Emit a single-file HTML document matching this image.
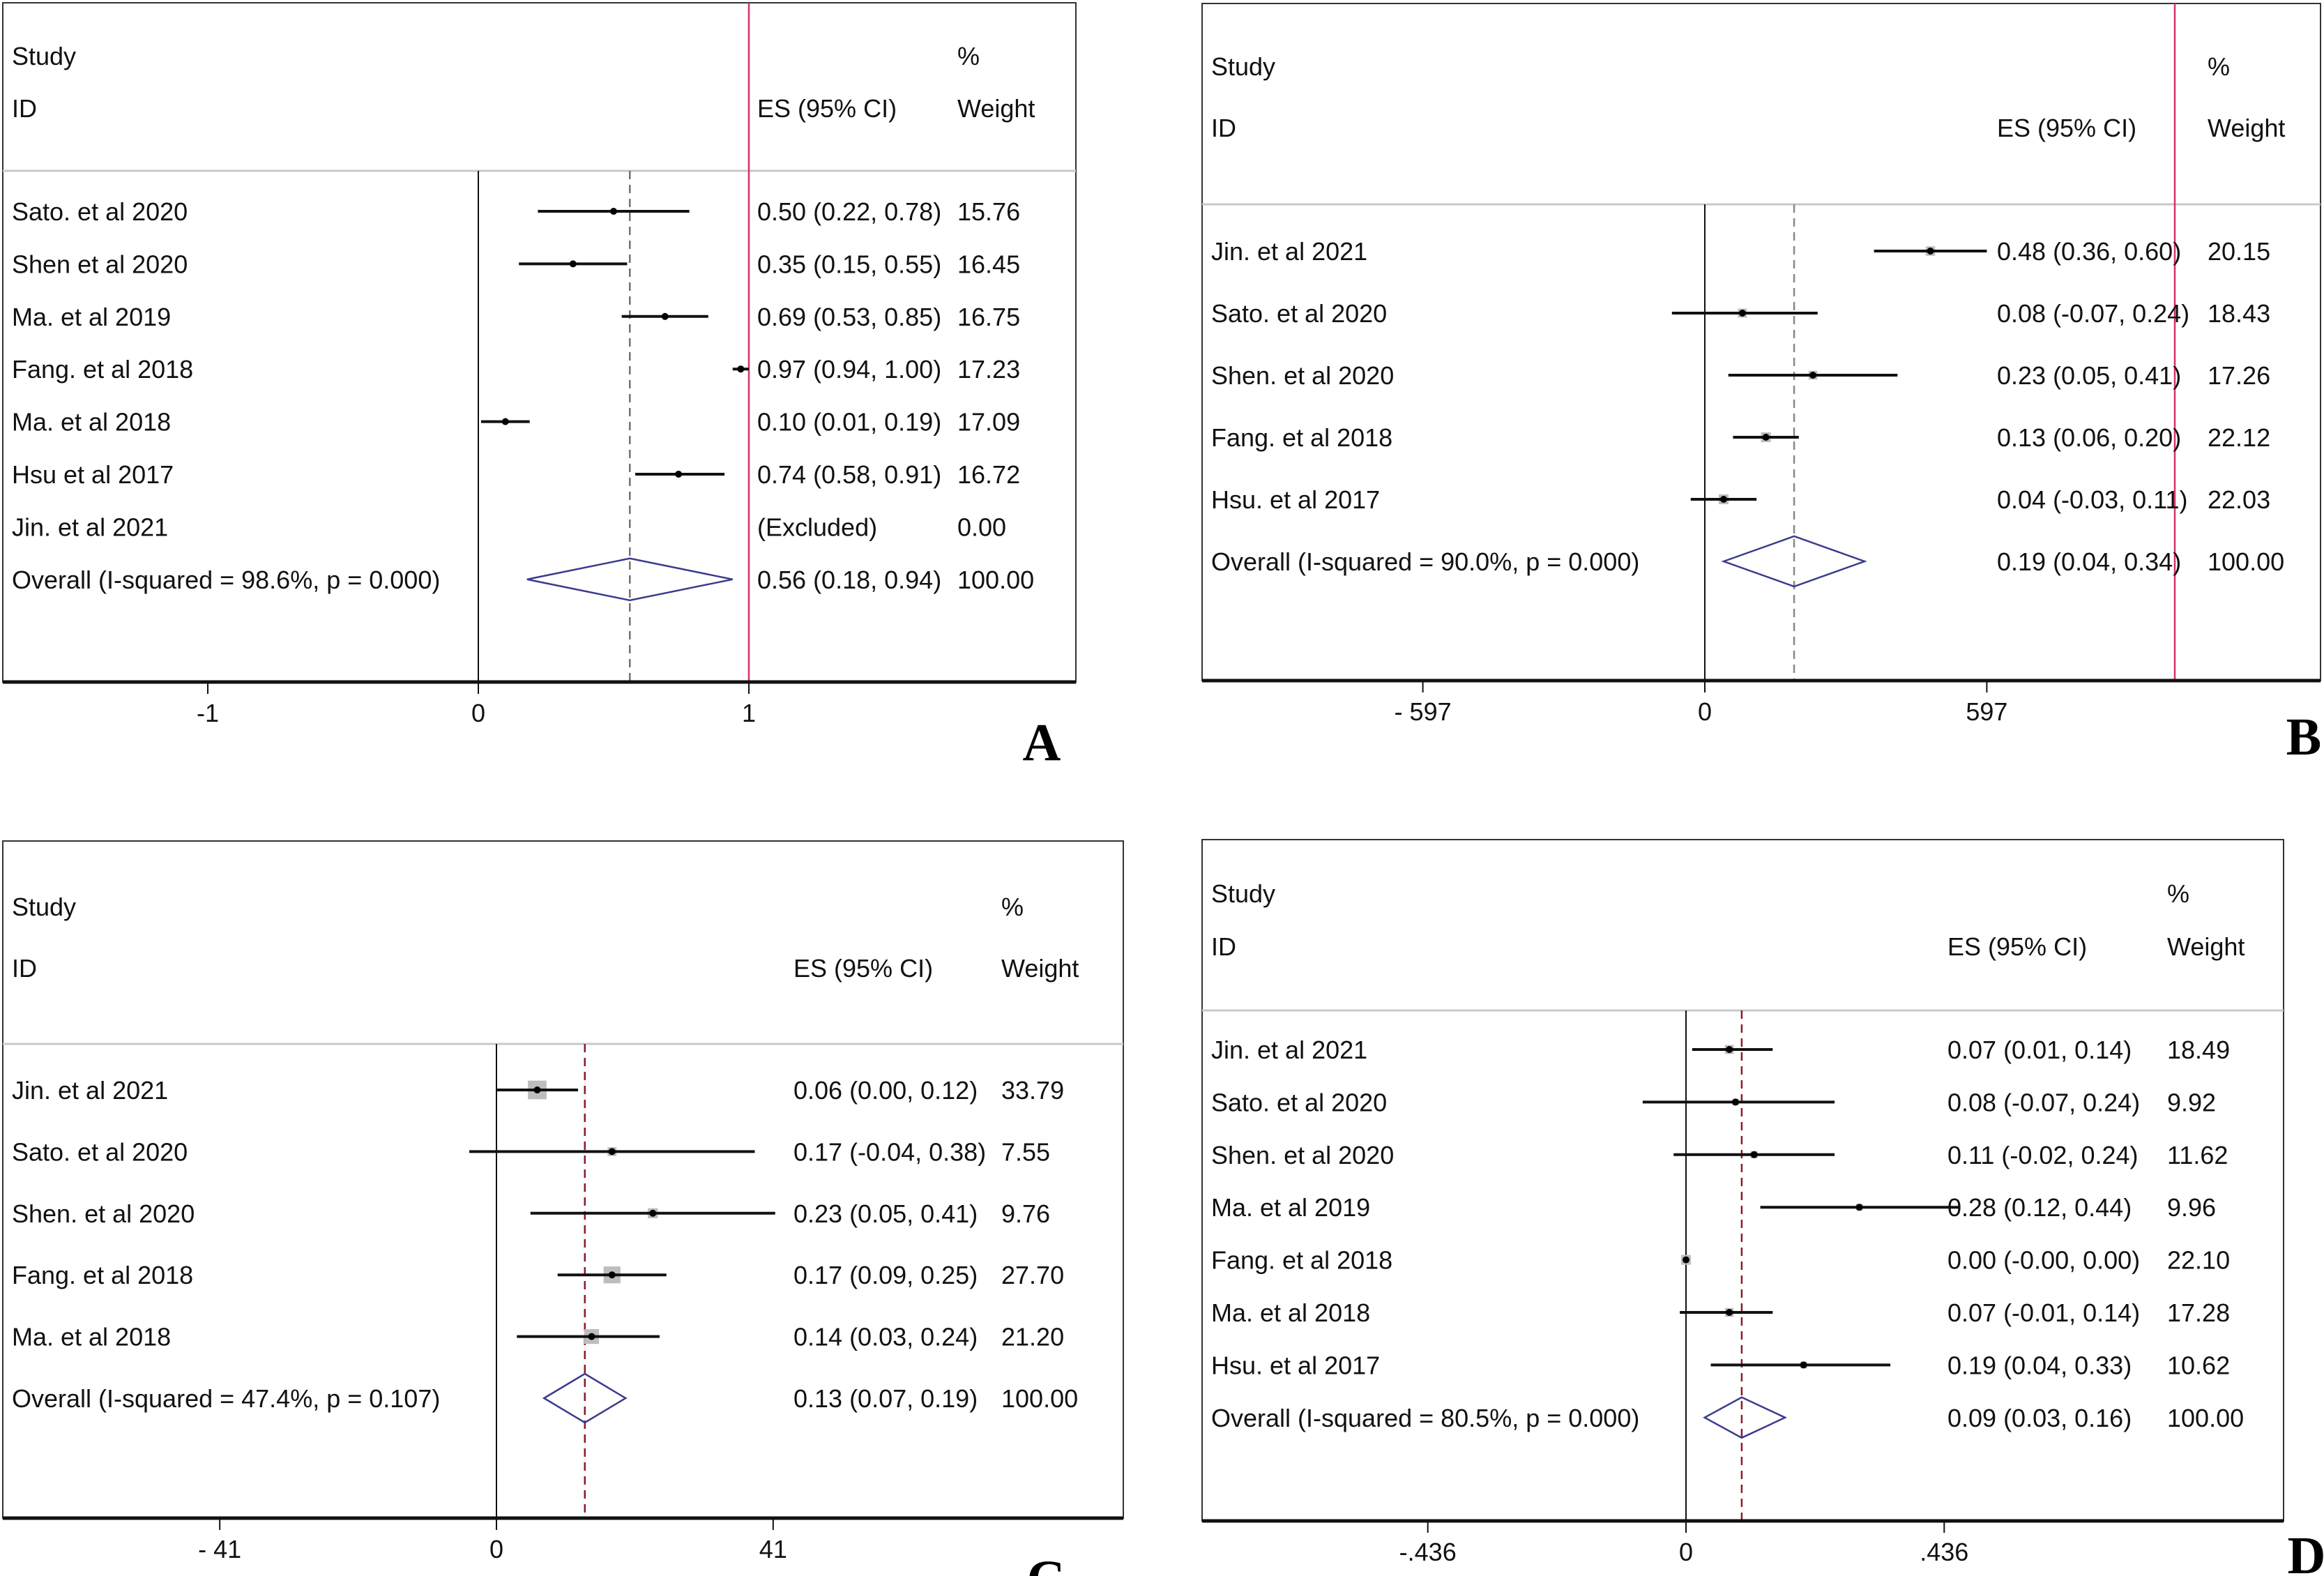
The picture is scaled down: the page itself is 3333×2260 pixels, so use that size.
<!DOCTYPE html>
<html><head><meta charset="utf-8"><style>
html,body{margin:0;padding:0;background:#fff;}
svg{display:block;}
text{font-family:"Liberation Sans",Arial,sans-serif;font-size:36px;fill:#111;}
.letter{font-family:"Liberation Serif",serif;font-weight:bold;font-size:76px;fill:#000;}
</style></head><body>
<svg id="fig" width="3333" height="2260" viewBox="0 0 3333 2260" xmlns="http://www.w3.org/2000/svg"></svg>
<script>
// Panel A data
const aStudies=["Sato. et al 2020","Shen  et al 2020","Ma. et al 2019","Fang. et al 2018","Ma. et al 2018","Hsu  et al 2017","Jin. et al 2021"];
const aES=[0.50,0.35,0.69,0.97,0.10,0.74,null];
const aLo=[0.22,0.15,0.53,0.94,0.01,0.58,null];
const aHi=[0.78,0.55,0.85,1.00,0.19,0.91,null];
const aWt=["15.76","16.45","16.75","17.23","17.09","16.72","0.00"];
const aOverall=[0.56,0.18,0.94];
const aOverallLabel="Overall  (I-squared = 98.6%, p = 0.000)";
const aTicks=[-1,0,1];
const aTickLabels=["-1","0","1"];
// Panel B data
const bStudies=["Jin. et al 2021","Sato. et al 2020","Shen. et al 2020","Fang. et al 2018","Hsu. et al 2017"];
const bES=[0.48,0.08,0.23,0.13,0.04];
const bLo=[0.36,-0.07,0.05,0.06,-0.03];
const bHi=[0.60,0.24,0.41,0.20,0.11];
const bWt=["20.15","18.43","17.26","22.12","22.03"];
const bOverall=[0.19,0.04,0.34];
const bOverallLabel="Overall  (I-squared = 90.0%, p = 0.000)";
const bTicks=[-0.6,0,0.6];
const bTickLabels=["- 597","0","597"];
// Panel C data
const cStudies=["Jin. et al 2021","Sato. et al 2020","Shen. et al 2020","Fang. et al 2018","Ma. et al 2018"];
const cES=[0.06,0.17,0.23,0.17,0.14];
const cLo=[0.00,-0.04,0.05,0.09,0.03];
const cHi=[0.12,0.38,0.41,0.25,0.24];
const cWt=["33.79","7.55","9.76","27.70","21.20"];
const cOverall=[0.13,0.07,0.19];
const cOverallLabel="Overall  (I-squared = 47.4%, p = 0.107)";
const cTicks=[-0.407,0,0.407];
const cTickLabels=["- 41","0","41"];
// Panel D data
const dStudies=["Jin. et al 2021","Sato. et al 2020","Shen. et al 2020","Ma. et al 2019","Fang. et al 2018","Ma. et al 2018","Hsu. et al 2017"];
const dES=[0.07,0.08,0.11,0.28,0.00,0.07,0.19];
const dLo=[0.01,-0.07,-0.02,0.12,-0.001,-0.01,0.04];
const dHi=[0.14,0.24,0.24,0.44,0.001,0.14,0.33];
const dWt=["18.49","9.92","11.62","9.96","22.10","17.28","10.62"];
const dOverall=[0.09,0.03,0.16];
const dOverallLabel="Overall  (I-squared = 80.5%, p = 0.000)";
const dTicks=[-0.417,0,0.417];
const dTickLabels=["-.436","0",".436"];

const NS="http://www.w3.org/2000/svg";
const svg=document.getElementById("fig");
function mk(tag,attrs,parent){const e=document.createElementNS(NS,tag);for(const k in attrs)e.setAttribute(k,attrs[k]);(parent||svg).appendChild(e);return e;}
function fmt(v){return v.toFixed(2);}
function esText(e,l,h){return fmt(e)+" ("+fmt(l)+", "+fmt(h)+")";}

function panel(key,L,studies,es,lo,hi,wt,overall,overallLabel,ticks,tickLabels){
  const g=mk("g",{});
  
  
  const X=v=>L.zeroX+v*L.unit;
  const rowY=i=>L.row0+i*L.step;
  const fr=mk("rect",{x:L.left,y:L.top,width:L.right-L.left,height:L.bottom-L.top,fill:"none",stroke:"#333","stroke-width":2},g);
  
  
  const sep=mk("line",{x1:L.left,x2:L.right,y1:L.sep,y2:L.sep,stroke:"#c8c8c8","stroke-width":3},g);
  
  
  const hdr=[["Study",L.textX,L.studyY,"header-study"],["ID",L.textX,L.idY,"header-id"],["ES (95% CI)",L.esX,L.idY,"header-es"],["%",L.wX,L.studyY,"header-percent"],["Weight",L.wX,L.idY,"header-weight"]];
  hdr.forEach(h=>{const t=mk("text",{x:h[1],y:h[2]+13},g);t.textContent=h[0];
    
    });
  const zl=mk("line",{x1:X(0),x2:X(0),y1:L.sep,y2:L.bottom,stroke:"#111","stroke-width":2},g);
  
  
  const dl=mk("line",{x1:X(overall[0]),x2:X(overall[0]),y1:L.sep,y2:L.bottom,stroke:L.dash,"stroke-width":2.5,"stroke-dasharray":"12,8"},g);
  
  
  if(L.red!==undefined){
    const rl=mk("line",{x1:X(L.red),x2:X(L.red),y1:L.top,y2:L.bottom,stroke:"#d8306a","stroke-width":2.5},g);
    
    
  }
  studies.forEach((s,i)=>{
    const y=rowY(i);
    const t=mk("text",{x:L.textX,y:y+13},g);t.textContent=s;
    
    
    if(es[i]!==null){
      const sz=L.boxK*Math.sqrt(parseFloat(wt[i]));
      if(sz>0){const b=mk("rect",{x:X(es[i])-sz/2,y:y-sz/2,width:sz,height:sz,fill:"#bdbdbd"},g);
        
        }
      const ci=mk("line",{x1:X(lo[i]),x2:X(hi[i]),y1:y,y2:y,stroke:"#111","stroke-width":4},g);
      
      
      const p=mk("circle",{cx:X(es[i]),cy:y,r:5,fill:"#000"},g);
      
      
      const et=mk("text",{x:L.esX,y:y+13},g);et.textContent=esText(es[i],lo[i],hi[i]);
      
      
    } else {
      const et=mk("text",{x:L.esX,y:y+13},g);et.textContent="(Excluded)";
      
      
    }
    const wtT=mk("text",{x:L.wX,y:y+13},g);wtT.textContent=wt[i];
    
    
  });
  const oy=rowY(studies.length);
  const ot=mk("text",{x:L.textX,y:oy+13},g);ot.textContent=overallLabel;
  
  
  const dm=mk("polygon",{points:[X(overall[1])+","+oy,X(overall[0])+","+(oy-L.dh),X(overall[2])+","+oy,X(overall[0])+","+(oy+L.dh)].join(" "),fill:"none",stroke:"#3b3b8c","stroke-width":2.5},g);
  
  
  const oe=mk("text",{x:L.esX,y:oy+13},g);oe.textContent=esText(overall[0],overall[1],overall[2]);
  
  
  const ow=mk("text",{x:L.wX,y:oy+13},g);ow.textContent="100.00";
  
  
  const ax=mk("line",{x1:L.left,x2:L.right,y1:L.bottom,y2:L.bottom,stroke:"#111","stroke-width":5},g);
  
  
  ticks.forEach((tv,i)=>{
    const tk=mk("line",{x1:X(tv),x2:X(tv),y1:L.bottom,y2:L.bottom+17,stroke:"#111","stroke-width":2},g);
    
    
    const tl=mk("text",{x:X(tv),y:L.bottom+57,"text-anchor":"middle"},g);tl.textContent=tickLabels[i];
    
    
  });
  const lt=mk("text",{x:L.letterX,y:L.letterY,"class":"letter","text-anchor":"middle"},g);lt.textContent=key.toUpperCase();
  
  
}

panel("a",{left:4,right:1543,top:4,sep:245,bottom:978,zeroX:686,unit:388,row0:303,step:75.4,studyY:80,idY:155,textX:17,esX:1086,wX:1373,dash:"#7a6a7a",red:1,boxK:0,dh:30,letterX:1494,letterY:1090},
  aStudies,aES,aLo,aHi,aWt,aOverall,aOverallLabel,aTicks,aTickLabels);
panel("b",{left:1724,right:3328,top:5,sep:293,bottom:976,zeroX:2445,unit:674,row0:360,step:89,studyY:95,idY:183,textX:1737,esX:2864,wX:3166,dash:"#888",red:1,boxK:3,dh:36,letterX:3304,letterY:1082},
  bStudies,bES,bLo,bHi,bWt,bOverall,bOverallLabel,bTicks,bTickLabels);
panel("c",{left:4,right:1611,top:1206,sep:1497,bottom:2177,zeroX:712,unit:975,row0:1563,step:88.4,studyY:1300,idY:1388,textX:17,esX:1138,wX:1436,dash:"#8b1a2a",boxK:4.6,dh:35,letterX:1500,letterY:2290},
  cStudies,cES,cLo,cHi,cWt,cOverall,cOverallLabel,cTicks,cTickLabels);
panel("d",{left:1724,right:3275,top:1204,sep:1449,bottom:2181,zeroX:2418,unit:888,row0:1505,step:75.4,studyY:1281,idY:1357,textX:1737,esX:2793,wX:3108,dash:"#8b1a2a",boxK:3,dh:29,letterX:3308,letterY:2256},
  dStudies,dES,dLo,dHi,dWt,dOverall,dOverallLabel,dTicks,dTickLabels);
</script>
</body></html>
